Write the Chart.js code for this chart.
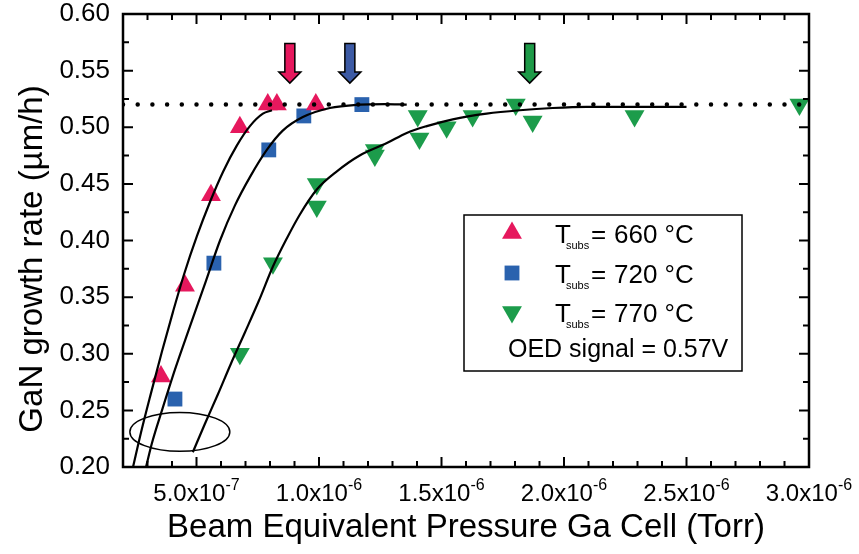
<!DOCTYPE html>
<html>
<head>
<meta charset="utf-8">
<script src="https://cdn.jsdelivr.net/npm/chart.js@4.4.0/dist/chart.umd.min.js"></script>
<style>
  html, body { margin: 0; padding: 0; background: #fff; }
  canvas { display: block; }
</style>
</head>
<body>
<canvas id="growthChart" width="859" height="554"></canvas>
<script>
// measured growth rates (um/h) vs Ga cell BEP (Torr)
const bep660 = [3.55e-7, 4.53e-7, 5.59e-7, 6.77e-7, 7.91e-7, 8.28e-7, 9.87e-7];
const rate660 = [0.28, 0.36, 0.44, 0.50, 0.52, 0.52, 0.52];

const bep720 = [4.12e-7, 5.71e-7, 7.95e-7, 9.38e-7, 1.175e-6];
const rate720 = [0.26, 0.38, 0.48, 0.51, 0.52];

const bep770 = [6.77e-7, 8.12e-7, 9.91e-7, 9.91e-7, 1.228e-6, 1.228e-6, 1.403e-6, 1.41e-6, 1.521e-6, 1.627e-6, 1.803e-6, 1.872e-6, 2.288e-6, 2.961e-6];
const rate770 = [0.30, 0.38, 0.43, 0.45, 0.48, 0.475, 0.51, 0.49, 0.50, 0.51, 0.52, 0.505, 0.51, 0.52];

// guide-to-the-eye curves
const fit660X = [2.41e-7, 2.73e-7, 3.14e-7, 3.59e-7, 4.04e-7, 4.49e-7, 5.02e-7, 5.55e-7, 6.09e-7, 6.65e-7, 7.18e-7, 7.71e-7, 8.08e-7];
const fit660Y = [0.200, 0.230, 0.265, 0.302, 0.337, 0.370, 0.404, 0.434, 0.461, 0.484, 0.501, 0.512, 0.515];

const fit720X = [2.94e-7, 3.18e-7, 3.59e-7, 4.12e-7, 4.73e-7, 5.38e-7, 5.96e-7, 6.57e-7, 7.18e-7, 7.87e-7, 8.52e-7, 9.34e-7, 1.044e-6, 1.166e-6, 1.268e-6, 1.358e-6];
const fit720Y = [0.200, 0.221, 0.250, 0.286, 0.324, 0.364, 0.400, 0.431, 0.456, 0.480, 0.497, 0.509, 0.517, 0.520, 0.5205, 0.520];

const fit770X = [4.85e-7, 5.34e-7, 5.87e-7, 6.40e-7, 6.98e-7, 7.55e-7, 8.12e-7, 8.69e-7, 9.22e-7, 9.91e-7, 1.073e-6, 1.166e-6, 1.277e-6, 1.358e-6, 1.44e-6, 1.546e-6, 1.684e-6, 1.819e-6, 1.954e-6, 2.092e-6, 2.227e-6, 2.5e-6];
const fit770Y = [0.213, 0.238, 0.264, 0.291, 0.319, 0.347, 0.377, 0.402, 0.423, 0.445, 0.461, 0.475, 0.486, 0.495, 0.501, 0.507, 0.512, 0.515, 0.517, 0.518, 0.518, 0.518];

const saturationRate = 0.52;

// arrows marking the onset of saturation
const arrowBep = [8.81e-7, 1.126e-6, 1.86e-6];
const arrowTop = 0.574;
const arrowTip = 0.539;

// ellipse around the low-flux region
const ellipseCenter = [4.32e-7, 0.231];
const ellipseRadius = [2.04e-7, 0.0172];

const xMin = 2e-7, xMax = 3e-6;
const yMin = 0.2, yMax = 0.6;
const xTickValues = [5e-7, 1e-6, 1.5e-6, 2e-6, 2.5e-6, 3e-6];
const xTickMantissa = ['5.0x10', '1.0x10', '1.5x10', '2.0x10', '2.5x10', '3.0x10'];
const xTickExponent = ['-7', '-6', '-6', '-6', '-6', '-6'];

const legendTemps = ['660', '720', '770'];
const oedText = 'OED signal = 0.57V';

const RED = '#E6185D';
const BLUE = '#2A62AE';
const GREEN = '#1C9C4B';
const ARROW_COLORS = ['#E6185D', '#3C5AA4', '#1E9A48'];
const FONT = "'Liberation Sans', Arial, Helvetica, sans-serif";

Chart.defaults.font.family = FONT;
Chart.defaults.color = '#000';

function toPoints(xs, ys) {
    return xs.map((x, i) => ({ x: x, y: ys[i] }));
}

const overlayPlugin = {
    id: 'overlay',
    afterDraw(chart) {
        const ctx = chart.ctx;
        const xs = chart.scales.x;
        const ys = chart.scales.y;
        const area = chart.chartArea;
        ctx.save();

        // frame
        ctx.strokeStyle = '#000';
        ctx.lineWidth = 2.5;
        ctx.strokeRect(area.left, area.top, area.right - area.left, area.bottom - area.top);

        // inward ticks on all four sides
        ctx.lineWidth = 2;
        ctx.beginPath();
        for (let i = 3; i < 30; i++) {
            const px = xs.getPixelForValue(i * 1e-7);
            const len = (i % 5 === 0) ? 10 : 6;
            ctx.moveTo(px, area.bottom); ctx.lineTo(px, area.bottom - len);
            ctx.moveTo(px, area.top); ctx.lineTo(px, area.top + len);
        }
        for (let i = 1; i < 16; i++) {
            const py = ys.getPixelForValue(yMin + i * 0.025);
            const len = (i % 2 === 0) ? 10 : 6;
            ctx.moveTo(area.left, py); ctx.lineTo(area.left + len, py);
            ctx.moveTo(area.right, py); ctx.lineTo(area.right - len, py);
        }
        ctx.stroke();

        // x tick labels with superscript exponent
        ctx.fillStyle = '#000';
        ctx.textBaseline = 'alphabetic';
        ctx.textAlign = 'left';
        xTickValues.forEach((v, i) => {
            const px = xs.getPixelForValue(v);
            ctx.font = '24px ' + FONT;
            const mw = ctx.measureText(xTickMantissa[i]).width;
            ctx.font = '16px ' + FONT;
            const ew = ctx.measureText(xTickExponent[i]).width;
            const start = px - (mw + ew) / 2;
            ctx.font = '24px ' + FONT;
            ctx.fillText(xTickMantissa[i], start, 501);
            ctx.font = '16px ' + FONT;
            ctx.fillText(xTickExponent[i], start + mw, 490);
        });

        // y axis title
        ctx.save();
        ctx.translate(33, 259);
        ctx.rotate(-Math.PI / 2);
        ctx.textAlign = 'center';
        ctx.textBaseline = 'middle';
        ctx.font = '33px ' + FONT;
        ctx.fillText('GaN growth rate (\u00b5m/h)', 0, 0);
        ctx.restore();

        // ellipse
        const ecx = xs.getPixelForValue(ellipseCenter[0]);
        const ecy = ys.getPixelForValue(ellipseCenter[1]);
        const erx = xs.getPixelForValue(ellipseCenter[0] + ellipseRadius[0]) - ecx;
        const ery = ecy - ys.getPixelForValue(ellipseCenter[1] + ellipseRadius[1]);
        ctx.lineWidth = 1.5;
        ctx.beginPath();
        ctx.ellipse(ecx, ecy, erx, ery, 0, 0, Math.PI * 2);
        ctx.stroke();

        // arrows
        const top = ys.getPixelForValue(arrowTop);
        const tip = ys.getPixelForValue(arrowTip);
        const headBase = tip - 11;
        arrowBep.forEach((v, i) => {
            const px = xs.getPixelForValue(v);
            ctx.beginPath();
            ctx.moveTo(px - 5, top);
            ctx.lineTo(px + 5, top);
            ctx.lineTo(px + 5, headBase);
            ctx.lineTo(px + 11, headBase);
            ctx.lineTo(px, tip);
            ctx.lineTo(px - 11, headBase);
            ctx.lineTo(px - 5, headBase);
            ctx.closePath();
            ctx.fillStyle = ARROW_COLORS[i];
            ctx.fill();
            ctx.lineWidth = 1.5;
            ctx.strokeStyle = '#000';
            ctx.stroke();
        });

        // legend box
        ctx.fillStyle = '#fff';
        ctx.fillRect(464, 215, 278, 156);
        ctx.lineWidth = 1.5;
        ctx.strokeStyle = '#000';
        ctx.strokeRect(464, 215, 278, 156);

        const markers = [
            { pointStyle: 'triangle', rotation: 0, radius: 11.5, color: RED },
            { pointStyle: 'rect', rotation: 0, radius: 10.5, color: BLUE },
            { pointStyle: 'triangle', rotation: 180, radius: 11.5, color: GREEN }
        ];
        const rowBase = [243, 283, 322];
        markers.forEach((m, i) => {
            const cy = rowBase[i] - 10;
            ctx.fillStyle = m.color;
            Chart.helpers.drawPoint(ctx, { pointStyle: m.pointStyle, rotation: m.rotation, radius: m.radius, borderWidth: 0 }, 512, cy);
            ctx.fillStyle = '#000';
            ctx.font = '26px ' + FONT;
            ctx.fillText('T', 555, rowBase[i]);
            ctx.font = '11px ' + FONT;
            ctx.fillText('subs', 566, rowBase[i] + 6);
            ctx.font = '26px ' + FONT;
            ctx.fillText('=', 591, rowBase[i]);
            ctx.fillText(legendTemps[i] + ' \u00b0C', 614, rowBase[i]);
        });
        ctx.font = '25px ' + FONT;
        ctx.fillText(oedText, 508, 357);

        ctx.restore();
    }
};

const ctx = document.getElementById('growthChart').getContext('2d');
new Chart(ctx, {
    type: 'scatter',
    data: {
        datasets: [
            {
                data: toPoints(fit660X, fit660Y),
                showLine: true, borderColor: '#000', borderWidth: 2.2,
                pointRadius: 0, cubicInterpolationMode: 'monotone'
            },
            {
                data: toPoints(fit720X, fit720Y),
                showLine: true, borderColor: '#000', borderWidth: 2.2,
                pointRadius: 0, cubicInterpolationMode: 'monotone'
            },
            {
                data: toPoints(fit770X, fit770Y),
                showLine: true, borderColor: '#000', borderWidth: 2.2,
                pointRadius: 0, cubicInterpolationMode: 'monotone'
            },
            {
                data: [{ x: xMin, y: saturationRate }, { x: xMax, y: saturationRate }],
                showLine: true, borderColor: '#000', borderWidth: 4.5,
                borderDash: [0, 14.7], borderCapStyle: 'round', pointRadius: 0
            },
            {
                label: '660',
                data: toPoints(bep660, rate660),
                pointStyle: 'triangle', pointRadius: 11.5,
                backgroundColor: RED, borderWidth: 0
            },
            {
                label: '720',
                data: toPoints(bep720, rate720),
                pointStyle: 'rect', pointRadius: 10.5,
                backgroundColor: BLUE, borderWidth: 0
            },
            {
                label: '770',
                data: toPoints(bep770, rate770),
                pointStyle: 'triangle', pointRotation: 180, pointRadius: 11.5,
                backgroundColor: GREEN, borderWidth: 0
            }
        ]
    },
    options: {
        responsive: false,
        animation: false,
        layout: { padding: { left: 0, top: 14, right: 50, bottom: 0 } },
        plugins: {
            legend: { display: false },
            tooltip: { enabled: false }
        },
        scales: {
            x: {
                type: 'linear',
                min: xMin,
                max: xMax,
                grid: { display: false, drawTicks: false },
                border: { display: false },
                ticks: { display: false },
                title: {
                    display: true,
                    text: 'Beam Equivalent Pressure Ga Cell (Torr)',
                    font: { size: 33 },
                    padding: { top: 0, bottom: 6 }
                },
                afterFit: (scale) => { scale.height = 87; }
            },
            y: {
                min: yMin,
                max: yMax,
                grid: { display: false, drawTicks: false },
                border: { display: false },
                ticks: {
                    stepSize: 0.05,
                    padding: 13,
                    font: { size: 26 },
                    callback: (v) => v.toFixed(2)
                },
                afterFit: (scale) => {
                    scale.width = 123;
                    scale.paddingTop = 0;
                    scale.paddingBottom = 0;
                }
            }
        }
    },
    plugins: [overlayPlugin]
});
</script>
</body>
</html>
